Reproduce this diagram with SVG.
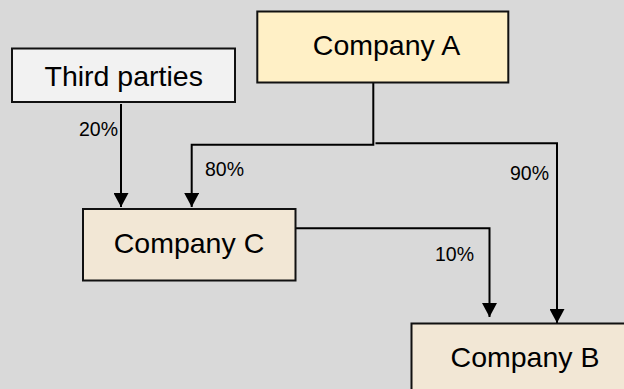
<svg xmlns="http://www.w3.org/2000/svg" width="624" height="389" viewBox="0 0 624 389">
<defs>
<marker id="arr" markerWidth="14" markerHeight="15" refX="14" refY="7.5" orient="auto" markerUnits="userSpaceOnUse">
<path d="M0,0 L14,7.5 L0,15 Z" fill="#000"/>
</marker>
<style>
.box{stroke:#111;stroke-width:2}
.lbl{font-family:"Liberation Sans",Arial,sans-serif;font-size:28.5px;fill:#000;text-anchor:middle}
.pct{font-family:"Liberation Sans",Arial,sans-serif;font-size:19.5px;fill:#000}
.con{fill:none;stroke:#000;stroke-width:2}
</style>
</defs>
<rect width="624" height="389" fill="#d9d9d9"/>
<g id="connectors">
<path class="con" d="M121,104 V207" marker-end="url(#arr)"/>
<path class="con" d="M373.3,83 V144.7 H191.7 V207" marker-end="url(#arr)"/>
<path class="con" d="M375.5,143.3 H557 V323" marker-end="url(#arr)"/>
<path class="con" d="M296,228.3 H489.5 V317" marker-end="url(#arr)"/>
<text class="pct" x="79" y="136">20%</text>
<text class="pct" x="205" y="176">80%</text>
<text class="pct" x="510" y="179.5">90%</text>
<text class="pct" x="435" y="261">10%</text>
</g>
<g id="third-parties">
<rect class="box" x="12" y="48.5" width="223" height="53.5" fill="#f2f2f2"/>
<text class="lbl" x="123.7" y="86">Third parties</text>
</g>
<g id="company-a">
<rect class="box" x="257.3" y="11.5" width="251" height="71" fill="#fff0c6"/>
<text class="lbl" x="386.5" y="55">Company A</text>
</g>
<g id="company-c">
<rect class="box" x="83" y="209" width="212.5" height="71.5" fill="#f2e7d5"/>
<text class="lbl" x="189" y="253.3">Company C</text>
</g>
<g id="company-b">
<rect class="box" x="411.5" y="323.5" width="230" height="80" fill="#f2e7d5"/>
<text class="lbl" x="525" y="366.7">Company B</text>
</g>
</svg>
